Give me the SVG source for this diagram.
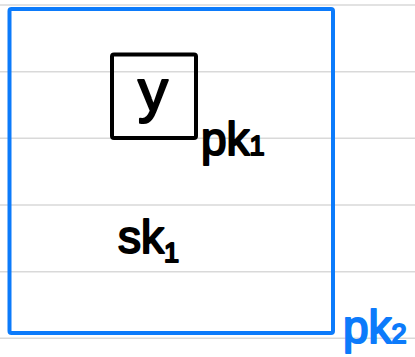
<svg xmlns="http://www.w3.org/2000/svg" width="415" height="357" viewBox="0 0 415 357">
  <style>
    .rule { stroke: #d9d9d9; stroke-width: 1.5; }
    .hand { font-family: "Liberation Sans", Arial, sans-serif; font-size: 46px; stroke-width: 2; stroke-linejoin: round; }
    .blk { fill: #000; stroke: #000; }
    .blu { fill: #0c7bfb; stroke: #0c7bfb; }
    .sub { font-size: 27px; }
  </style>
  <rect width="415" height="357" fill="#fff"/>
  <g id="ruled-lines">
    <line class="rule" x1="0" y1="5" x2="415" y2="5"/>
    <line class="rule" x1="0" y1="71.7" x2="415" y2="71.7"/>
    <line class="rule" x1="0" y1="138.3" x2="415" y2="138.3"/>
    <line class="rule" x1="0" y1="205" x2="415" y2="205"/>
    <line class="rule" x1="0" y1="271.7" x2="415" y2="271.7"/>
    <line class="rule" x1="0" y1="338.3" x2="415" y2="338.3"/>
  </g>
  <g id="outer-box">
    <rect x="9.5" y="9" width="323.5" height="324" rx="2" fill="none" stroke="#0c7bfb" stroke-width="4"/>
    <text class="hand blu" x="343" y="343">pk<tspan class="sub">2</tspan></text>
  </g>
  <g id="inner-box">
    <rect x="112" y="54.5" width="84" height="83.5" rx="2" fill="none" stroke="#000" stroke-width="4"/>
    <text class="hand blk" x="153" y="111" text-anchor="middle" style="font-size:60px">y</text>
    <text class="hand blk" x="201" y="155">pk<tspan class="sub">1</tspan></text>
  </g>
  <g id="secret-key">
    <text class="hand blk" x="118" y="253">sk<tspan class="sub" dy="9">1</tspan></text>
  </g>
  <g id="connectors"></g>
</svg>
